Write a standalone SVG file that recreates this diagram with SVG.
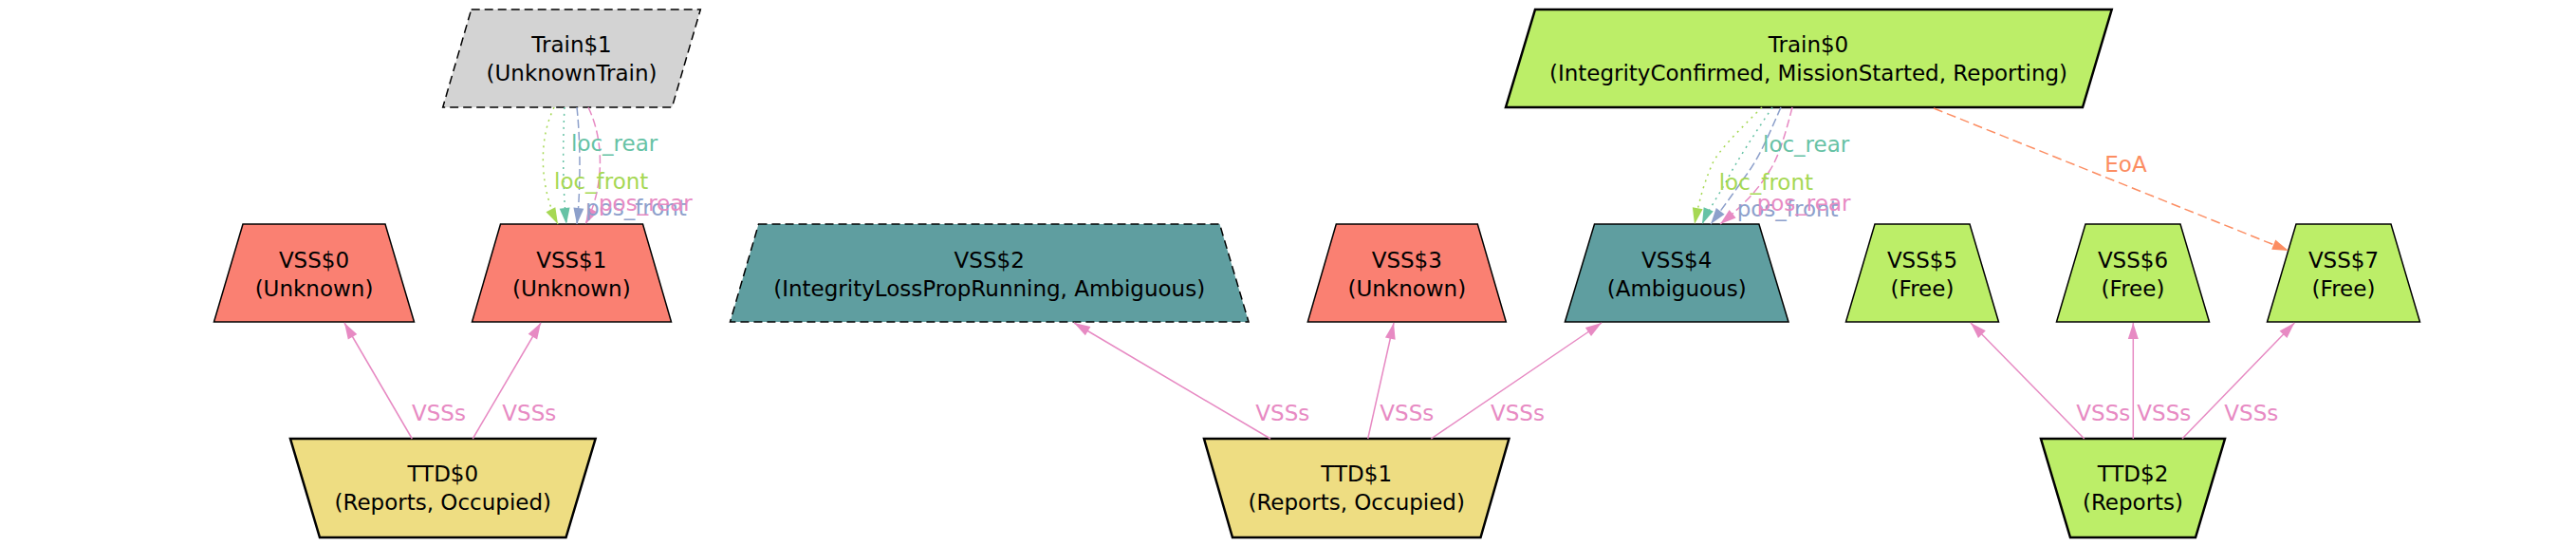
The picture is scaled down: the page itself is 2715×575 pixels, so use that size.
<svg xmlns="http://www.w3.org/2000/svg" width="2715" height="575" viewBox="0 0 2715 575">
<style>
text{font-family:"DejaVu Sans","Liberation Sans",sans-serif;font-size:23px}
.n{text-anchor:middle;fill:#000}
.s{stroke:#000;stroke-width:1.5}
.t{stroke:#000;stroke-width:2.5}
.d{stroke-dasharray:9,5}
.e{fill:none;stroke-width:1.5}
.dot{stroke-dasharray:2,5}
.dash{stroke-dasharray:9,4}
.pk{stroke:#e78ac3}.gr{stroke:#a6d854}.tl{stroke:#66c2a5}.bl{stroke:#8da0cb}.or{stroke:#fc8d62}
.lpk{fill:#e78ac3}.lgr{fill:#a6d854}.ltl{fill:#66c2a5}.lbl{fill:#8da0cb}.lor{fill:#fc8d62}
</style>
<defs>
<marker id="apk" markerUnits="userSpaceOnUse" markerWidth="20" markerHeight="14" refX="17" refY="6" orient="auto" overflow="visible"><path d="M0,0.5 L17,6 L0,11.5z" fill="#e78ac3"/></marker>
<marker id="agr" markerUnits="userSpaceOnUse" markerWidth="20" markerHeight="14" refX="17" refY="6" orient="auto" overflow="visible"><path d="M0,0.5 L17,6 L0,11.5z" fill="#a6d854"/></marker>
<marker id="atl" markerUnits="userSpaceOnUse" markerWidth="20" markerHeight="14" refX="17" refY="6" orient="auto" overflow="visible"><path d="M0,0.5 L17,6 L0,11.5z" fill="#66c2a5"/></marker>
<marker id="abl" markerUnits="userSpaceOnUse" markerWidth="20" markerHeight="14" refX="17" refY="6" orient="auto" overflow="visible"><path d="M0,0.5 L17,6 L0,11.5z" fill="#8da0cb"/></marker>
<marker id="aor" markerUnits="userSpaceOnUse" markerWidth="20" markerHeight="14" refX="17" refY="6" orient="auto" overflow="visible"><path d="M0,0.5 L17,6 L0,11.5z" fill="#fc8d62"/></marker>
</defs>
<rect width="2715" height="575" fill="#fff"/>

<g id="Train1">
<polygon class="s d" points="496.7,10 738.3,10 708.3,113 466.7,113" fill="#d3d3d3"/>
<text class="n" x="602.5" y="55">Train$1</text>
<text class="n" x="602.5" y="85">(UnknownTrain)</text>
</g>
<g id="Train0">
<polygon class="t" points="1618,10 2225.7,10 2195,113 1587,113" fill="#bcee68"/>
<text class="n" x="1906" y="55">Train$0</text>
<text class="n" x="1906" y="85">(IntegrityConfirmed, MissionStarted, Reporting)</text>
</g>

<g id="VSS0">
<polygon class="s" points="256,236 406,236 436.5,339 225.5,339" fill="#fa8072"/>
<text class="n" x="331" y="282">VSS$0</text>
<text class="n" x="331" y="312">(Unknown)</text>
</g>
<g id="VSS1">
<polygon class="s" points="527.5,236 677.5,236 707.5,339 497.5,339" fill="#fa8072"/>
<text class="n" x="602.3" y="282">VSS$1</text>
<text class="n" x="602.3" y="312">(Unknown)</text>
</g>
<g id="VSS2">
<polygon class="s d" points="799.5,236 1285.5,236 1316,339 769.5,339" fill="#5f9ea0"/>
<text class="n" x="1042.7" y="282">VSS$2</text>
<text class="n" x="1042.7" y="312">(IntegrityLossPropRunning, Ambiguous)</text>
</g>
<g id="VSS3">
<polygon class="s" points="1408.3,236 1557.3,236 1587.3,339 1378.3,339" fill="#fa8072"/>
<text class="n" x="1482.8" y="282">VSS$3</text>
<text class="n" x="1482.8" y="312">(Unknown)</text>
</g>
<g id="VSS4">
<polygon class="s" points="1680.5,236 1853.9,236 1885,339 1649.4,339" fill="#5f9ea0"/>
<text class="n" x="1767.2" y="282">VSS$4</text>
<text class="n" x="1767.2" y="312">(Ambiguous)</text>
</g>
<g id="VSS5">
<polygon class="s" points="1976,236 2076,236 2106.5,339 1945.5,339" fill="#bcee68"/>
<text class="n" x="2026" y="282">VSS$5</text>
<text class="n" x="2026" y="312">(Free)</text>
</g>
<g id="VSS6">
<polygon class="s" points="2198,236 2298,236 2328.5,339 2167.5,339" fill="#bcee68"/>
<text class="n" x="2248" y="282">VSS$6</text>
<text class="n" x="2248" y="312">(Free)</text>
</g>
<g id="VSS7">
<polygon class="s" points="2420,236 2520,236 2550.5,339 2389.5,339" fill="#bcee68"/>
<text class="n" x="2470" y="282">VSS$7</text>
<text class="n" x="2470" y="312">(Free)</text>
</g>

<g id="TTD0">
<polygon class="t" points="306,462 627.6,462 596.5,566 337,566" fill="#eedd82"/>
<text class="n" x="466.8" y="507">TTD$0</text>
<text class="n" x="466.8" y="537">(Reports, Occupied)</text>
</g>
<g id="TTD1">
<polygon class="t" points="1269,462 1590.4,462 1560.5,566 1299,566" fill="#eedd82"/>
<text class="n" x="1429.7" y="507">TTD$1</text>
<text class="n" x="1429.7" y="537">(Reports, Occupied)</text>
</g>
<g id="TTD2">
<polygon class="t" points="2151,462 2345,462 2314,566 2182,566" fill="#bcee68"/>
<text class="n" x="2248" y="507">TTD$2</text>
<text class="n" x="2248" y="537">(Reports)</text>
</g>

<g id="connectors">
<path class="e pk" d="M434.3,462 L363,340" marker-end="url(#apk)"/>
<path class="e pk" d="M498.3,462 L570,340" marker-end="url(#apk)"/>
<path class="e pk" d="M1339,462 L1132,340" marker-end="url(#apk)"/>
<path class="e pk" d="M1441.7,462 L1469,340" marker-end="url(#apk)"/>
<path class="e pk" d="M1508.3,462 L1688,340" marker-end="url(#apk)"/>
<path class="e pk" d="M2196.7,462 L2077,340" marker-end="url(#apk)"/>
<path class="e pk" d="M2248.3,462 L2248.3,340" marker-end="url(#apk)"/>
<path class="e pk" d="M2300,462 L2418.3,340" marker-end="url(#apk)"/>

<path class="e gr dot" d="M584,113 C566,150 570,200 588,236" marker-end="url(#agr)"/>
<path class="e tl dot" d="M595,113 C593,150 593,200 597,236" marker-end="url(#atl)"/>
<path class="e bl dash" d="M608,113 C612,150 612,200 608,236" marker-end="url(#abl)"/>
<path class="e pk dash" d="M620,113 C638,150 636,200 617,236" marker-end="url(#apk)"/>

<path class="e gr dot" d="M1857,113 C1830,140 1812,158 1805,172 C1798,188 1792,205 1786,236" marker-end="url(#agr)"/>
<path class="e tl dot" d="M1868,113 C1850,140 1830,170 1820,190 C1810,208 1800,222 1794,236" marker-end="url(#atl)"/>
<path class="e bl dash" d="M1877,113 C1865,140 1855,165 1840,185 C1828,202 1815,220 1803,236" marker-end="url(#abl)"/>
<path class="e pk dash" d="M1889,113 C1882,140 1875,165 1865,180 C1850,205 1830,222 1813,236" marker-end="url(#apk)"/>

<path class="e or" stroke-dasharray="10,5" d="M2038,114 L2412,264" marker-end="url(#aor)"/>

<text class="lpk" x="434" y="443">VSSs</text>
<text class="lpk" x="529.3" y="443">VSSs</text>
<text class="lpk" x="1323.3" y="443">VSSs</text>
<text class="lpk" x="1454.3" y="443">VSSs</text>
<text class="lpk" x="1571" y="443">VSSs</text>
<text class="lpk" x="2188.3" y="443">VSSs</text>
<text class="lpk" x="2252.3" y="443">VSSs</text>
<text class="lpk" x="2344.3" y="443">VSSs</text>

<text class="ltl" x="602" y="159">loc_rear</text>
<text class="lgr" x="584" y="199">loc_front</text>
<text class="lbl" x="617" y="227">pos_front</text>
<text class="lpk" x="631" y="222">pos_rear</text>

<text class="ltl" x="1858" y="160">loc_rear</text>
<text class="lgr" x="1811.7" y="200">loc_front</text>
<text class="lbl" x="1830.7" y="228">pos_front</text>
<text class="lpk" x="1851.7" y="222">pos_rear</text>

<text class="lor" x="2218.3" y="181">EoA</text>
</g>
</svg>
